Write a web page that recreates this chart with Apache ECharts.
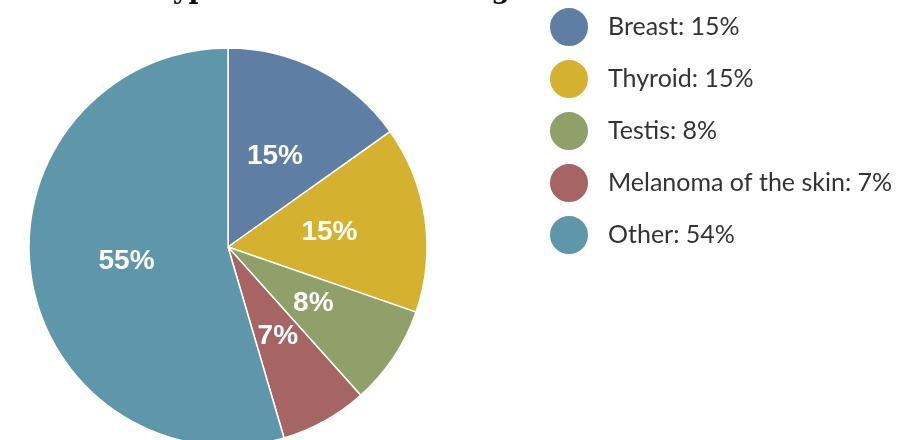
<!DOCTYPE html>
<html>
<head>
<meta charset="utf-8">
<script src="https://cdn.jsdelivr.net/npm/echarts@6/dist/echarts.min.js"></script>
<style>
  html, body { margin: 0; padding: 0; background: #fff; }
  #main { width: 905px; height: 440px; }
</style>
</head>
<body>
<div id="main"></div>
<script>
const categories = ['Breast', 'Thyroid', 'Testis', 'Melanoma of the skin', 'Other'];
const values = [15, 15, 8, 7, 54];
const colors = ['#5f7ea3', '#d4b22f', '#8fa068', '#a66462', '#5f97aa'];

const myChart = echarts.init(document.getElementById('main'));

const option = {
  backgroundColor: '#fff',
  color: colors,
  title: {
    // only the bottom of the title shows in the picture
    text: 'Common Types of Cancer Among Teens',
    left: 12,
    top: -23,
    padding: 0,
    textStyle: {
      fontFamily: 'DejaVu Serif',
      fontWeight: 'bold',
      fontSize: 27,
      color: '#111'
    }
  },
  legend: {
    orient: 'vertical',
    left: 543,
    top: 1,
    icon: 'circle',
    itemWidth: 40,
    itemHeight: 40,
    itemGap: 10,
    selectedMode: false,
    formatter: function (name) {
      const i = categories.indexOf(name);
      return name + ': ' + values[i] + '%';
    },
    textStyle: {
      fontFamily: 'Lato',
      fontSize: 25,
      color: '#333',
      padding: [0, 0, 0, 14]
    }
  },
  series: [{
    type: 'pie',
    center: [228, 247],
    radius: 199,
    startAngle: 90,
    clockwise: true,
    animation: false,
    data: categories.map(function (c, i) { return { name: c, value: values[i] }; }),
    itemStyle: {
      borderColor: '#fff',
      borderWidth: 1.5
    },
    label: {
      position: 'inside',
      formatter: function (p) { return Math.round(p.percent) + '%'; },
      color: '#fff',
      fontFamily: 'Liberation Sans',
      fontWeight: 'bold',
      fontSize: 28
    },
    labelLine: { show: false },
    emphasis: { disabled: true }
  }]
};

myChart.setOption(option);
</script>
</body>
</html>
